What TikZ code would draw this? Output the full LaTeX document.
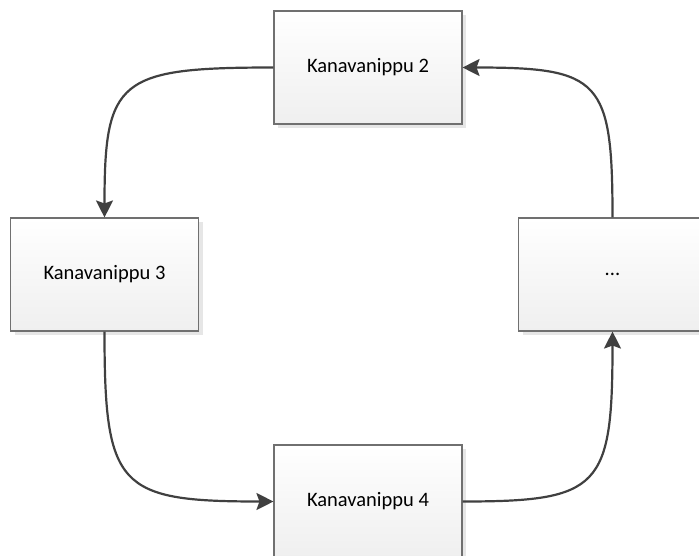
\documentclass[tikz,border=0pt]{standalone}
\usepackage{fontspec}
\setmainfont{Carlito}
\usetikzlibrary{arrows.meta,shadows,calc}
\definecolor{boxborder}{HTML}{707070}
\definecolor{boxbottom}{HTML}{EFEFEF}
\definecolor{shadowc}{HTML}{E6E6E6}
\definecolor{linec}{HTML}{404040}
\tikzset{
  chbox/.style={rectangle, minimum width=188pt, minimum height=113pt, inner sep=0pt,
    draw=boxborder, line width=1.1pt, top color=white, bottom color=boxbottom,
    font=\fontsize{20.5}{24}\selectfont, text=black,
    drop shadow={shadow xshift=4pt, shadow yshift=-4pt, fill=shadowc, opacity=1}},
  conn/.style={draw=linec, line width=2.2pt,
    -{Stealth[length=17pt,width=17pt,inset=3pt]}}
}
\begin{document}
\begin{tikzpicture}[x=1pt,y=-1pt]
\useasboundingbox (0,0) rectangle (699,555);
\begin{scope}
\clip (0,0) rectangle (699,555);
\node[chbox] (top) at (368,67.5) {Kanavanippu 2};
\node[chbox] (left) at (104.5,274.5) {Kanavanippu 3};
\node[chbox] (right) at (612.5,274.5) {...};
\node[chbox] (bottom) at (368,501.5) {Kanavanippu 4};
\end{scope}
\coordinate (c1) at (left.north |- top.west);
\coordinate (c2) at (left.south |- bottom.west);
\coordinate (c3) at (right.south |- bottom.east);
\coordinate (c4) at (right.north |- top.east);
\draw[conn] (top.west) .. controls ($(top.west)!0.92!(c1)$) and ($(left.north)!0.92!(c1)$) .. (left.north);
\draw[conn] (left.south) .. controls ($(left.south)!0.92!(c2)$) and ($(bottom.west)!0.92!(c2)$) .. (bottom.west);
\draw[conn] (bottom.east) .. controls ($(bottom.east)!0.92!(c3)$) and ($(right.south)!0.92!(c3)$) .. (right.south);
\draw[conn] (right.north) .. controls ($(right.north)!0.92!(c4)$) and ($(top.east)!0.92!(c4)$) .. (top.east);
\end{tikzpicture}
\end{document}
